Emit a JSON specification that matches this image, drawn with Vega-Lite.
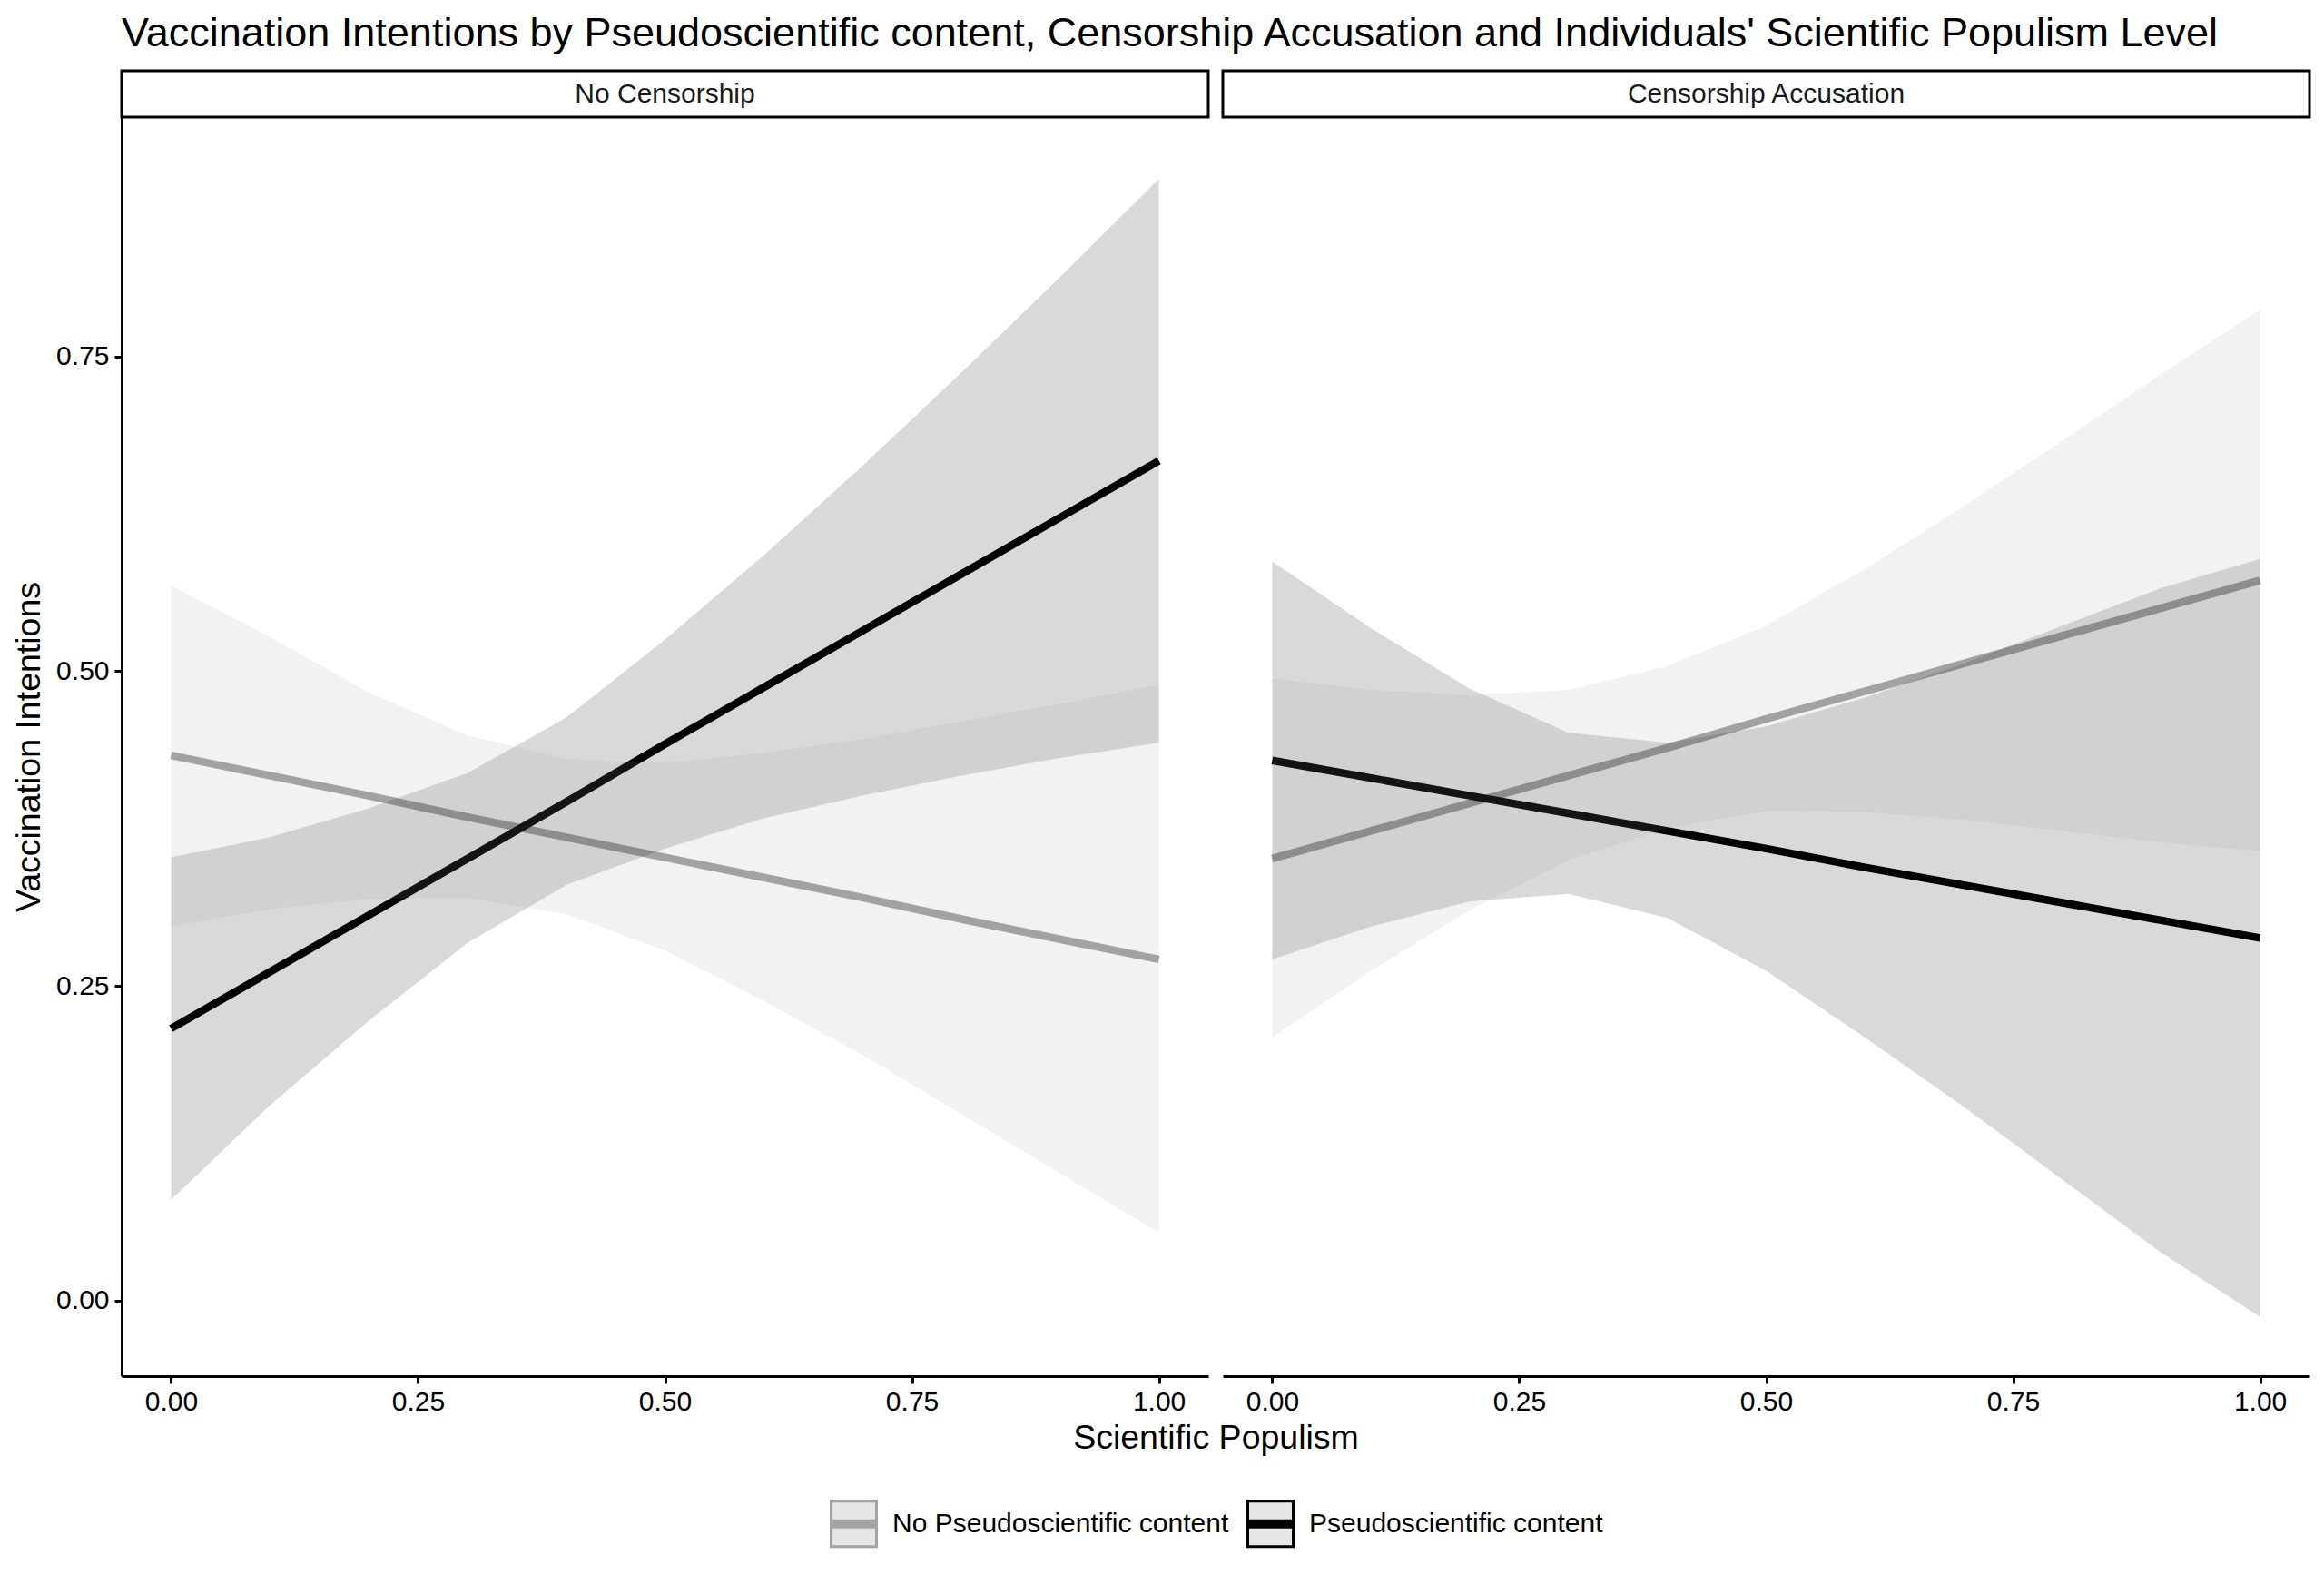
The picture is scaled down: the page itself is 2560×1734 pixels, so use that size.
{
  "$schema": "https://vega.github.io/schema/vega-lite/v6.json",
  "background": "white",
  "padding": {"left": 13, "top": 14, "right": 0, "bottom": 0},
  "title": {"text": "Vaccination Intentions by Pseudoscientific content, Censorship Accusation and Individuals' Scientific Populism Level", "anchor": "start", "frame": "group", "font": "Liberation Sans", "fontSize": 45, "fontWeight": "normal", "color": "#000000", "baseline": "alphabetic", "offset": -19},
  "config": {
    "font": "Liberation Sans",
    "axis": {"grid": false, "domainColor": "#000000", "domainWidth": 3, "tickColor": "#000000", "tickWidth": 3, "tickSize": 8, "labelFont": "Liberation Sans", "labelFontSize": 30, "labelColor": "#000000", "titleFont": "Liberation Sans", "titleFontSize": 37.5, "titleFontWeight": "normal", "titleColor": "#000000"}
  },
  "datasets": {
    "bands": [
      {"panel": "No Censorship", "grp": "No Pseudoscientific content", "x": 0.0, "fit": 0.433, "lo": 0.297, "hi": 0.568},
      {"panel": "No Censorship", "grp": "No Pseudoscientific content", "x": 0.1, "fit": 0.417, "lo": 0.311, "hi": 0.527},
      {"panel": "No Censorship", "grp": "No Pseudoscientific content", "x": 0.2, "fit": 0.401, "lo": 0.319, "hi": 0.483},
      {"panel": "No Censorship", "grp": "No Pseudoscientific content", "x": 0.3, "fit": 0.384, "lo": 0.320, "hi": 0.449},
      {"panel": "No Censorship", "grp": "No Pseudoscientific content", "x": 0.4, "fit": 0.368, "lo": 0.307, "hi": 0.430},
      {"panel": "No Censorship", "grp": "No Pseudoscientific content", "x": 0.5, "fit": 0.352, "lo": 0.278, "hi": 0.427},
      {"panel": "No Censorship", "grp": "No Pseudoscientific content", "x": 0.6, "fit": 0.336, "lo": 0.238, "hi": 0.435},
      {"panel": "No Censorship", "grp": "No Pseudoscientific content", "x": 0.7, "fit": 0.320, "lo": 0.195, "hi": 0.446},
      {"panel": "No Censorship", "grp": "No Pseudoscientific content", "x": 0.8, "fit": 0.303, "lo": 0.148, "hi": 0.460},
      {"panel": "No Censorship", "grp": "No Pseudoscientific content", "x": 0.9, "fit": 0.287, "lo": 0.101, "hi": 0.474},
      {"panel": "No Censorship", "grp": "No Pseudoscientific content", "x": 1.0, "fit": 0.271, "lo": 0.054, "hi": 0.489},
      {"panel": "No Censorship", "grp": "Pseudoscientific content", "x": 0.0, "fit": 0.216, "lo": 0.080, "hi": 0.352},
      {"panel": "No Censorship", "grp": "Pseudoscientific content", "x": 0.1, "fit": 0.261, "lo": 0.155, "hi": 0.368},
      {"panel": "No Censorship", "grp": "Pseudoscientific content", "x": 0.2, "fit": 0.306, "lo": 0.222, "hi": 0.391},
      {"panel": "No Censorship", "grp": "Pseudoscientific content", "x": 0.3, "fit": 0.351, "lo": 0.284, "hi": 0.419},
      {"panel": "No Censorship", "grp": "Pseudoscientific content", "x": 0.4, "fit": 0.396, "lo": 0.330, "hi": 0.463},
      {"panel": "No Censorship", "grp": "Pseudoscientific content", "x": 0.5, "fit": 0.442, "lo": 0.359, "hi": 0.525},
      {"panel": "No Censorship", "grp": "Pseudoscientific content", "x": 0.6, "fit": 0.487, "lo": 0.383, "hi": 0.592},
      {"panel": "No Censorship", "grp": "Pseudoscientific content", "x": 0.7, "fit": 0.532, "lo": 0.401, "hi": 0.663},
      {"panel": "No Censorship", "grp": "Pseudoscientific content", "x": 0.8, "fit": 0.577, "lo": 0.417, "hi": 0.737},
      {"panel": "No Censorship", "grp": "Pseudoscientific content", "x": 0.9, "fit": 0.622, "lo": 0.431, "hi": 0.813},
      {"panel": "No Censorship", "grp": "Pseudoscientific content", "x": 1.0, "fit": 0.667, "lo": 0.443, "hi": 0.891},
      {"panel": "Censorship Accusation", "grp": "No Pseudoscientific content", "x": 0.0, "fit": 0.351, "lo": 0.209, "hi": 0.494},
      {"panel": "Censorship Accusation", "grp": "No Pseudoscientific content", "x": 0.1, "fit": 0.373, "lo": 0.262, "hi": 0.485},
      {"panel": "Censorship Accusation", "grp": "No Pseudoscientific content", "x": 0.2, "fit": 0.395, "lo": 0.310, "hi": 0.481},
      {"panel": "Censorship Accusation", "grp": "No Pseudoscientific content", "x": 0.3, "fit": 0.417, "lo": 0.350, "hi": 0.485},
      {"panel": "Censorship Accusation", "grp": "No Pseudoscientific content", "x": 0.4, "fit": 0.439, "lo": 0.375, "hi": 0.504},
      {"panel": "Censorship Accusation", "grp": "No Pseudoscientific content", "x": 0.5, "fit": 0.462, "lo": 0.389, "hi": 0.536},
      {"panel": "Censorship Accusation", "grp": "No Pseudoscientific content", "x": 0.6, "fit": 0.484, "lo": 0.388, "hi": 0.581},
      {"panel": "Censorship Accusation", "grp": "No Pseudoscientific content", "x": 0.7, "fit": 0.506, "lo": 0.382, "hi": 0.631},
      {"panel": "Censorship Accusation", "grp": "No Pseudoscientific content", "x": 0.8, "fit": 0.528, "lo": 0.373, "hi": 0.683},
      {"panel": "Censorship Accusation", "grp": "No Pseudoscientific content", "x": 0.9, "fit": 0.550, "lo": 0.364, "hi": 0.736},
      {"panel": "Censorship Accusation", "grp": "No Pseudoscientific content", "x": 1.0, "fit": 0.572, "lo": 0.357, "hi": 0.787},
      {"panel": "Censorship Accusation", "grp": "Pseudoscientific content", "x": 0.0, "fit": 0.429, "lo": 0.271, "hi": 0.587},
      {"panel": "Censorship Accusation", "grp": "Pseudoscientific content", "x": 0.1, "fit": 0.415, "lo": 0.297, "hi": 0.534},
      {"panel": "Censorship Accusation", "grp": "Pseudoscientific content", "x": 0.2, "fit": 0.401, "lo": 0.317, "hi": 0.486},
      {"panel": "Censorship Accusation", "grp": "Pseudoscientific content", "x": 0.3, "fit": 0.387, "lo": 0.323, "hi": 0.451},
      {"panel": "Censorship Accusation", "grp": "Pseudoscientific content", "x": 0.4, "fit": 0.373, "lo": 0.304, "hi": 0.443},
      {"panel": "Censorship Accusation", "grp": "Pseudoscientific content", "x": 0.5, "fit": 0.359, "lo": 0.262, "hi": 0.456},
      {"panel": "Censorship Accusation", "grp": "Pseudoscientific content", "x": 0.6, "fit": 0.344, "lo": 0.209, "hi": 0.479},
      {"panel": "Censorship Accusation", "grp": "Pseudoscientific content", "x": 0.7, "fit": 0.330, "lo": 0.154, "hi": 0.506},
      {"panel": "Censorship Accusation", "grp": "Pseudoscientific content", "x": 0.8, "fit": 0.316, "lo": 0.096, "hi": 0.536},
      {"panel": "Censorship Accusation", "grp": "Pseudoscientific content", "x": 0.9, "fit": 0.302, "lo": 0.038, "hi": 0.566},
      {"panel": "Censorship Accusation", "grp": "Pseudoscientific content", "x": 1.0, "fit": 0.288, "lo": -0.013, "hi": 0.589}
    ]
  },
  "bounds": "flush",
  "columns": 2,
  "spacing": {"row": 0, "column": 16},
  "concat": [
    {
      "width": 1197, "height": 51,
      "view": {"stroke": "#000000", "strokeWidth": 3, "fill": "white"},
      "data": {"values": [{"label": "No Censorship"}]},
      "mark": {"type": "text", "font": "Liberation Sans", "fontSize": 30, "color": "#1A1A1A", "baseline": "middle", "align": "center"},
      "encoding": {"text": {"field": "label"}}
    },
    {
      "width": 1197, "height": 51,
      "view": {"stroke": "#000000", "strokeWidth": 3, "fill": "white"},
      "data": {"values": [{"label": "Censorship Accusation"}]},
      "mark": {"type": "text", "font": "Liberation Sans", "fontSize": 30, "color": "#1A1A1A", "baseline": "middle", "align": "center"},
      "encoding": {"text": {"field": "label"}}
    },
    {
      "width": 1197, "height": 1387,
      "view": {"stroke": null},
      "data": {"name": "bands"},
      "transform": [{"filter": "datum.panel === 'No Censorship'"}],
      "layer": [
        {
          "mark": {"type": "line", "strokeWidth": 8.5, "strokeCap": "butt"},
          "encoding": {
            "x": {"field": "x", "type": "quantitative", "scale": {"domain": [-0.05, 1.05], "nice": false, "zero": false}, "axis": {"values": [0, 0.25, 0.5, 0.75, 1], "format": ".2f", "labelPadding": 5, "title": "Scientific Populism", "titleX": 1205, "titleY": 79, "titleBaseline": "alphabetic", "titleAlign": "center"}},
            "y": {"field": "fit", "type": "quantitative", "scale": {"domain": [-0.06, 0.94], "nice": false, "zero": false}, "axis": {"values": [0, 0.25, 0.5, 0.75], "format": ".2f", "labelPadding": 6, "title": "Vaccination Intentions", "titleX": -91, "titleBaseline": "alphabetic", "titleAngle": 270, "titleAlign": "center"}},
            "color": {"field": "grp", "type": "nominal", "scale": {"domain": ["No Pseudoscientific content", "Pseudoscientific content"], "range": ["#A4A4A4", "#000000"]},
              "legend": {"title": null, "orient": "none", "legendX": 780, "legendY": 1574, "direction": "horizontal", "symbolType": "M-1,-1L1,-1L1,1L-1,1Z M-1,-0.14L1,-0.14 M-1,-0.047L1,-0.047 M-1,0.047L1,0.047 M-1,0.14L1,0.14", "symbolSize": 2500, "symbolStrokeWidth": 3, "labelFont": "Liberation Sans", "labelFontSize": 30, "labelColor": "#000000", "labelOffset": 16, "columnPadding": 14, "padding": 0, "labelLimit": 0,
                "encode": {"symbols": {"update": {"fill": {"value": "#E6E6E6"}, "strokeWidth": {"value": 3}, "opacity": {"value": 1}}}}}
            }
          }
        },
        {
          "transform": [{"filter": "datum.grp === 'Pseudoscientific content'"}],
          "mark": {"type": "area", "fill": "#000000", "fillOpacity": 0.15},
          "encoding": {
            "x": {"field": "x", "type": "quantitative"},
            "y": {"field": "lo", "type": "quantitative"},
            "y2": {"field": "hi"}
          }
        },
        {
          "transform": [{"filter": "datum.grp === 'No Pseudoscientific content'"}],
          "mark": {"type": "area", "fill": "#9A9A9A", "fillOpacity": 0.13},
          "encoding": {
            "x": {"field": "x", "type": "quantitative"},
            "y": {"field": "lo", "type": "quantitative"},
            "y2": {"field": "hi"}
          }
        }
      ]
    },
    {
      "width": 1197, "height": 1387,
      "view": {"stroke": null},
      "data": {"name": "bands"},
      "transform": [{"filter": "datum.panel === 'Censorship Accusation'"}],
      "layer": [
        {
          "mark": {"type": "line", "strokeWidth": 8.5, "strokeCap": "butt"},
          "encoding": {
            "x": {"field": "x", "type": "quantitative", "scale": {"domain": [-0.05, 1.05], "nice": false, "zero": false}, "axis": {"values": [0, 0.25, 0.5, 0.75, 1], "format": ".2f", "labelPadding": 5, "title": null}},
            "y": {"field": "fit", "type": "quantitative", "scale": {"domain": [-0.06, 0.94], "nice": false, "zero": false}, "axis": null},
            "color": {"field": "grp", "type": "nominal", "scale": {"domain": ["No Pseudoscientific content", "Pseudoscientific content"], "range": ["#A4A4A4", "#000000"]},
              "legend": {"title": null, "orient": "none", "legendX": 780, "legendY": 1574, "direction": "horizontal", "symbolType": "M-1,-1L1,-1L1,1L-1,1Z M-1,-0.14L1,-0.14 M-1,-0.047L1,-0.047 M-1,0.047L1,0.047 M-1,0.14L1,0.14", "symbolSize": 2500, "symbolStrokeWidth": 3, "labelFont": "Liberation Sans", "labelFontSize": 30, "labelColor": "#000000", "labelOffset": 16, "columnPadding": 14, "padding": 0, "labelLimit": 0,
                "encode": {"symbols": {"update": {"fill": {"value": "#E6E6E6"}, "strokeWidth": {"value": 3}, "opacity": {"value": 1}}}}}
            }
          }
        },
        {
          "transform": [{"filter": "datum.grp === 'Pseudoscientific content'"}],
          "mark": {"type": "area", "fill": "#000000", "fillOpacity": 0.15},
          "encoding": {
            "x": {"field": "x", "type": "quantitative"},
            "y": {"field": "lo", "type": "quantitative"},
            "y2": {"field": "hi"}
          }
        },
        {
          "transform": [{"filter": "datum.grp === 'No Pseudoscientific content'"}],
          "mark": {"type": "area", "fill": "#9A9A9A", "fillOpacity": 0.13},
          "encoding": {
            "x": {"field": "x", "type": "quantitative"},
            "y": {"field": "lo", "type": "quantitative"},
            "y2": {"field": "hi"}
          }
        }
      ]
    }
  ]
}
